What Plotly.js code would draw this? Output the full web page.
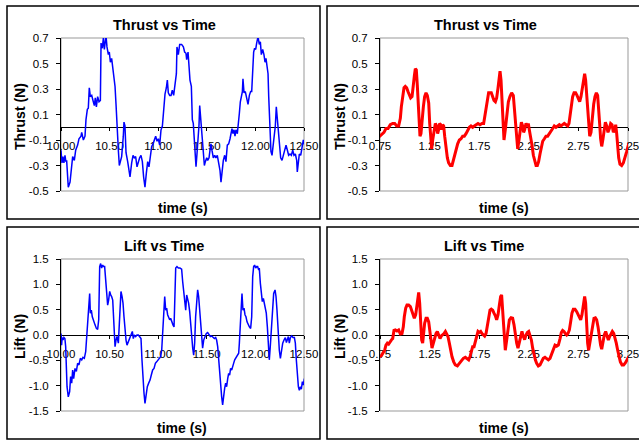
<!DOCTYPE html>
<html><head><meta charset="utf-8">
<script src="https://cdn.plot.ly/plotly-3.0.1.min.js"></script>
<style>html,body{margin:0;padding:0;background:#fff;}#chart{width:639px;height:441px;}</style>
</head><body><div id="chart"></div>
<script>
// ---- Data ----
const thrustExpTime = [10.000,10.010,10.020,10.030,10.041,10.050,10.058,10.075,10.093,10.110,10.120,10.137,10.151,10.171,10.185,10.206,10.213,10.230,10.247,10.257,10.271,10.281,10.291,10.302,10.316,10.329,10.343,10.353,10.364,10.377,10.391,10.405,10.412,10.425,10.436,10.446,10.453,10.463,10.473,10.487,10.497,10.508,10.521,10.535,10.549,10.556,10.566,10.576,10.590,10.600,10.610,10.624,10.641,10.648,10.658,10.669,10.686,10.700,10.710,10.727,10.741,10.754,10.768,10.782,10.796,10.809,10.823,10.837,10.850,10.864,10.878,10.892,10.905,10.919,10.933,10.947,10.960,10.974,10.988,11.001,11.015,11.029,11.043,11.056,11.070,11.084,11.094,11.104,11.118,11.132,11.145,11.159,11.173,11.187,11.193,11.207,11.221,11.241,11.259,11.272,11.286,11.293,11.307,11.317,11.327,11.341,11.351,11.361,11.372,11.379,11.389,11.399,11.409,11.420,11.427,11.437,11.451,11.464,11.475,11.485,11.499,11.509,11.523,11.533,11.543,11.553,11.567,11.581,11.594,11.608,11.622,11.636,11.646,11.656,11.670,11.684,11.697,11.711,11.725,11.739,11.749,11.759,11.769,11.780,11.790,11.800,11.814,11.824,11.835,11.845,11.855,11.866,11.872,11.883,11.896,11.910,11.924,11.938,11.951,11.962,11.972,11.982,11.992,12.003,12.013,12.027,12.040,12.051,12.061,12.075,12.088,12.099,12.109,12.119,12.130,12.137,12.143,12.150,12.160,12.171,12.181,12.195,12.205,12.215,12.225,12.236,12.246,12.260,12.274,12.288,12.301,12.315,12.329,12.342,12.356,12.370,12.384,12.397,12.411,12.425,12.431,12.442,12.452,12.466,12.480,12.493,12.507,12.521,12.534,12.545];
const thrustExp = [-0.18,-0.28,-0.23,-0.28,-0.22,-0.27,-0.26,-0.47,-0.43,-0.28,-0.23,-0.26,-0.18,-0.14,-0.09,-0.07,-0.04,-0.10,-0.07,0.06,0.14,0.15,0.31,0.24,0.25,0.21,0.17,0.23,0.16,0.24,0.20,0.21,0.66,0.62,0.70,0.61,0.65,0.72,0.63,0.57,0.59,0.51,0.54,0.45,0.40,0.32,0.18,-0.02,-0.18,-0.30,-0.27,-0.23,-0.07,0.04,0.01,-0.20,-0.27,-0.34,-0.39,-0.28,-0.22,-0.24,-0.23,-0.31,-0.27,-0.24,-0.22,-0.27,-0.39,-0.47,-0.36,-0.27,-0.31,-0.24,-0.15,-0.13,-0.10,-0.07,-0.11,-0.09,-0.14,-0.02,0.01,0.14,0.26,0.31,0.37,0.27,0.25,0.25,0.29,0.25,0.33,0.42,0.63,0.57,0.65,0.65,0.63,0.59,0.58,0.53,0.59,0.42,0.37,0.32,0.06,0.03,-0.10,-0.24,-0.31,-0.21,-0.13,0.02,0.17,0.08,-0.10,-0.21,-0.30,-0.27,-0.24,-0.26,-0.24,-0.18,-0.13,-0.18,-0.24,-0.22,-0.24,-0.22,-0.28,-0.34,-0.43,-0.34,-0.26,-0.22,-0.27,-0.14,-0.13,-0.09,-0.04,-0.01,-0.05,-0.02,-0.07,-0.02,-0.05,0.01,0.11,0.20,0.24,0.28,0.38,0.27,0.28,0.24,0.18,0.25,0.28,0.28,0.42,0.59,0.62,0.61,0.66,0.71,0.65,0.67,0.57,0.61,0.57,0.51,0.54,0.48,0.42,0.24,0.08,-0.05,-0.19,-0.22,-0.15,-0.07,0.01,0.16,0.08,-0.02,-0.14,-0.24,-0.26,-0.22,-0.18,-0.14,-0.18,-0.22,-0.21,-0.22,-0.18,-0.22,-0.21,-0.26,-0.35,-0.27,-0.21,-0.22,-0.14,-0.10,-0.14,-0.07,-0.04,0.01];

const thrustModelTime = [0.720,0.750,0.770,0.790,0.810,0.831,0.854,0.878,0.898,0.918,0.938,0.955,0.965,0.978,0.992,1.005,1.019,1.032,1.046,1.059,1.073,1.086,1.096,1.106,1.116,1.126,1.133,1.143,1.153,1.163,1.173,1.187,1.200,1.214,1.227,1.241,1.251,1.261,1.271,1.281,1.294,1.308,1.321,1.331,1.341,1.351,1.362,1.372,1.382,1.392,1.402,1.415,1.429,1.442,1.459,1.476,1.489,1.503,1.516,1.533,1.550,1.567,1.583,1.600,1.617,1.634,1.651,1.667,1.684,1.701,1.718,1.738,1.758,1.778,1.795,1.805,1.819,1.832,1.845,1.859,1.872,1.886,1.899,1.913,1.926,1.940,1.950,1.960,1.970,1.980,1.990,2.000,2.013,2.027,2.044,2.060,2.077,2.094,2.104,2.114,2.128,2.138,2.151,2.165,2.175,2.188,2.198,2.208,2.222,2.235,2.245,2.255,2.269,2.282,2.296,2.309,2.323,2.336,2.349,2.363,2.376,2.390,2.407,2.423,2.440,2.457,2.474,2.491,2.507,2.524,2.541,2.558,2.575,2.591,2.608,2.625,2.642,2.655,2.665,2.679,2.692,2.706,2.722,2.736,2.749,2.763,2.776,2.790,2.800,2.813,2.823,2.833,2.843,2.853,2.864,2.877,2.890,2.904,2.917,2.931,2.944,2.954,2.964,2.974,2.985,2.998,3.011,3.022,3.035,3.048,3.062,3.075,3.089,3.102,3.116,3.126,3.136,3.146,3.156,3.169,3.186,3.203,3.220,3.237,3.253,3.270,3.287,3.304];
const thrustModel = [-0.09,-0.07,-0.06,-0.04,-0.01,-0.01,0.02,0.03,0.03,0.01,0.01,0.07,0.16,0.24,0.31,0.32,0.31,0.28,0.25,0.23,0.24,0.31,0.40,0.46,0.45,0.33,0.21,0.06,-0.07,-0.05,0.06,0.16,0.24,0.27,0.25,0.19,0.03,-0.10,-0.17,-0.10,-0.02,0.03,0.01,-0.05,-0.02,0.03,0.02,-0.02,0.02,0.01,-0.07,-0.17,-0.24,-0.28,-0.30,-0.30,-0.26,-0.21,-0.17,-0.13,-0.10,-0.09,-0.07,-0.07,-0.05,-0.02,0.00,0.01,0.00,0.01,0.02,0.03,0.02,0.03,0.03,0.08,0.16,0.23,0.27,0.27,0.27,0.24,0.21,0.20,0.23,0.31,0.37,0.44,0.37,0.24,0.08,-0.10,-0.02,0.11,0.20,0.24,0.27,0.25,0.16,0.01,-0.10,-0.17,-0.10,-0.02,0.04,0.01,-0.04,-0.02,0.03,0.01,0.03,-0.02,-0.07,-0.14,-0.22,-0.27,-0.30,-0.30,-0.27,-0.21,-0.15,-0.11,-0.09,-0.07,-0.07,-0.05,-0.04,-0.01,0.01,0.00,0.01,0.02,0.01,0.02,0.03,0.02,0.01,0.03,0.10,0.18,0.24,0.27,0.27,0.25,0.23,0.20,0.24,0.31,0.37,0.42,0.37,0.27,0.14,0.01,-0.07,-0.04,0.08,0.18,0.24,0.27,0.25,0.16,0.03,-0.09,-0.15,-0.09,-0.01,0.04,0.01,-0.04,-0.01,0.03,0.02,-0.04,-0.02,0.02,-0.05,-0.15,-0.24,-0.29,-0.30,-0.28,-0.24,-0.19,-0.14,-0.10,-0.07,-0.06];

const liftExpTime = [10.000,10.006,10.012,10.021,10.030,10.040,10.048,10.055,10.062,10.075,10.089,10.099,10.110,10.120,10.130,10.144,10.158,10.171,10.185,10.199,10.213,10.226,10.240,10.254,10.267,10.278,10.285,10.295,10.302,10.312,10.322,10.336,10.350,10.364,10.377,10.388,10.398,10.408,10.418,10.429,10.439,10.449,10.460,10.470,10.480,10.490,10.501,10.511,10.521,10.532,10.538,10.549,10.556,10.566,10.576,10.590,10.600,10.610,10.617,10.628,10.638,10.648,10.658,10.669,10.679,10.693,10.706,10.720,10.734,10.744,10.754,10.768,10.782,10.796,10.809,10.823,10.833,10.844,10.854,10.864,10.874,10.888,10.902,10.916,10.929,10.943,10.957,10.971,10.984,10.998,11.012,11.025,11.036,11.046,11.056,11.067,11.077,11.087,11.097,11.108,11.118,11.128,11.139,11.152,11.163,11.173,11.180,11.193,11.207,11.224,11.241,11.252,11.262,11.272,11.283,11.293,11.303,11.313,11.324,11.334,11.344,11.355,11.365,11.375,11.385,11.396,11.406,11.416,11.426,11.437,11.447,11.457,11.468,11.481,11.495,11.509,11.523,11.536,11.550,11.564,11.578,11.591,11.601,11.612,11.622,11.632,11.643,11.653,11.663,11.674,11.684,11.694,11.704,11.715,11.725,11.735,11.745,11.756,11.766,11.776,11.787,11.797,11.807,11.817,11.828,11.835,11.845,11.852,11.862,11.872,11.883,11.893,11.903,11.914,11.924,11.938,11.951,11.962,11.972,11.982,11.992,12.003,12.013,12.023,12.034,12.040,12.051,12.061,12.071,12.082,12.092,12.102,12.112,12.123,12.133,12.143,12.153,12.164,12.174,12.188,12.202,12.212,12.222,12.233,12.246,12.257,12.267,12.281,12.294,12.308,12.319,12.329,12.339,12.349,12.360,12.373,12.387,12.401,12.411,12.421,12.431,12.442,12.452,12.462,12.473,12.483,12.493,12.504,12.514,12.528,12.538];
const liftExp = [0.03,-0.20,-0.05,-0.10,-0.05,-0.07,-0.23,-0.69,-1.02,-1.22,-1.12,-0.82,-0.95,-0.69,-0.86,-0.66,-0.72,-0.56,-0.59,-0.46,-0.49,-0.44,-0.46,-0.33,0.03,0.36,0.66,0.82,0.43,0.49,0.36,0.26,0.20,0.13,0.11,0.30,1.35,1.41,1.32,1.38,1.35,1.35,1.05,0.95,0.59,0.69,0.86,0.79,0.76,0.69,0.49,0.03,-0.23,-0.10,-0.03,-0.16,0.23,0.63,0.86,0.76,0.63,0.36,0.10,-0.10,-0.20,-0.13,-0.03,0.00,0.07,-0.07,0.00,-0.03,0.00,0.00,-0.03,-0.07,-0.49,-0.95,-1.15,-1.35,-1.15,-1.02,-0.95,-0.89,-0.79,-0.69,-0.66,-0.56,-0.53,-0.49,-0.46,-0.43,-0.30,0.00,0.36,0.76,0.49,0.53,0.40,0.36,0.30,0.33,0.26,0.20,0.16,0.89,1.32,1.35,1.32,1.32,1.30,1.05,0.89,0.76,0.49,0.79,0.72,0.63,0.46,0.16,-0.03,-0.26,-0.40,-0.16,0.36,0.76,0.89,0.76,0.49,0.16,-0.16,-0.26,-0.10,-0.02,0.03,0.05,0.00,-0.03,-0.02,-0.05,-0.07,-0.05,-0.10,-0.23,-0.49,-0.82,-1.09,-1.22,-1.38,-1.15,-1.05,-0.95,-1.02,-0.86,-0.76,-0.79,-0.66,-0.69,-0.59,-0.56,-0.49,-0.46,-0.43,-0.40,-0.36,-0.16,0.16,0.56,0.82,0.49,0.53,0.40,0.36,0.26,0.20,0.16,0.13,0.36,1.15,1.35,1.38,1.32,1.35,1.35,1.28,1.32,1.02,0.82,0.66,0.72,0.63,0.56,0.43,0.16,-0.23,-0.49,-0.23,0.10,0.49,0.82,0.89,0.76,0.49,0.10,-0.30,-0.46,-0.30,-0.16,-0.10,-0.05,-0.15,-0.09,-0.03,-0.16,-0.05,-0.02,-0.05,-0.05,-0.16,-0.49,-0.82,-1.02,-1.09,-1.02,-1.07,-0.92,-0.99,-0.86,-0.89,-0.79,-0.66];

const liftModelTime = [0.720,0.743,0.763,0.780,0.797,0.810,0.824,0.837,0.851,0.864,0.878,0.891,0.905,0.921,0.938,0.955,0.972,0.985,0.995,1.009,1.022,1.039,1.056,1.069,1.083,1.096,1.110,1.120,1.130,1.140,1.150,1.160,1.170,1.180,1.190,1.200,1.214,1.227,1.241,1.254,1.264,1.274,1.288,1.301,1.315,1.328,1.341,1.355,1.368,1.382,1.395,1.409,1.422,1.435,1.449,1.462,1.476,1.493,1.509,1.530,1.550,1.570,1.590,1.610,1.630,1.644,1.657,1.671,1.684,1.698,1.711,1.724,1.738,1.751,1.765,1.778,1.792,1.805,1.819,1.832,1.845,1.859,1.872,1.886,1.899,1.913,1.926,1.940,1.953,1.966,1.976,1.990,2.003,2.013,2.027,2.040,2.054,2.071,2.087,2.101,2.114,2.128,2.141,2.155,2.168,2.181,2.195,2.208,2.222,2.235,2.249,2.262,2.276,2.289,2.302,2.316,2.329,2.346,2.363,2.380,2.396,2.413,2.430,2.447,2.464,2.481,2.497,2.514,2.531,2.548,2.565,2.578,2.591,2.605,2.618,2.632,2.645,2.659,2.672,2.685,2.699,2.716,2.733,2.746,2.759,2.773,2.786,2.800,2.813,2.823,2.833,2.843,2.853,2.867,2.880,2.894,2.907,2.921,2.934,2.948,2.961,2.974,2.985,2.998,3.011,3.025,3.038,3.052,3.065,3.079,3.092,3.106,3.119,3.132,3.146,3.159,3.173,3.190,3.206,3.223,3.240,3.257,3.274,3.287,3.304];
const liftModel = [-0.36,-0.43,-0.41,-0.36,-0.30,-0.20,-0.16,-0.18,-0.13,-0.10,-0.07,0.09,0.10,0.08,0.10,0.02,0.03,0.16,0.36,0.53,0.59,0.59,0.56,0.49,0.40,0.33,0.40,0.59,0.76,0.84,0.63,0.23,-0.10,-0.16,0.03,0.23,0.33,0.33,0.26,0.10,-0.10,-0.26,-0.16,-0.03,0.03,0.07,0.00,-0.07,-0.02,0.00,0.03,0.07,0.03,-0.03,-0.16,-0.33,-0.43,-0.53,-0.59,-0.61,-0.56,-0.49,-0.46,-0.44,-0.46,-0.49,-0.43,-0.30,-0.23,-0.23,-0.13,-0.05,0.07,0.05,0.07,0.03,0.00,-0.02,0.03,0.16,0.36,0.49,0.51,0.49,0.43,0.38,0.30,0.40,0.59,0.76,0.79,0.36,-0.10,-0.30,-0.10,0.13,0.30,0.34,0.33,0.20,0.00,-0.16,-0.26,-0.13,0.00,0.07,-0.03,-0.09,0.00,0.05,0.07,0.00,-0.10,-0.26,-0.40,-0.49,-0.56,-0.61,-0.59,-0.53,-0.46,-0.44,-0.46,-0.49,-0.46,-0.36,-0.26,-0.20,-0.22,-0.20,-0.07,0.05,0.09,0.07,0.03,0.00,0.03,0.10,0.26,0.43,0.51,0.51,0.46,0.40,0.33,0.30,0.40,0.59,0.76,0.63,0.16,-0.16,-0.30,-0.13,0.07,0.26,0.33,0.34,0.30,0.16,-0.07,-0.20,-0.28,-0.13,0.00,0.07,-0.02,-0.10,-0.03,0.03,0.07,0.03,-0.05,-0.16,-0.30,-0.43,-0.53,-0.59,-0.59,-0.55,-0.49,-0.43,-0.41,-0.46,-0.44];

const expTickVals = [10.0, 10.5, 11.0, 11.5, 12.0, 12.5];
const expTickText = ['10.00','10.50','11.00','11.50','12.00','12.50'];
const modelTickVals = [0.75, 1.25, 1.75, 2.25, 2.75, 3.25];
const modelTickText = ['0.75','1.25','1.75','2.25','2.75','3.25'];
const thrustTickVals = [-0.5,-0.3,-0.1,0.1,0.3,0.5,0.7];
const thrustTickText = ['-0.5','-0.3','-0.1','0.1','0.3','0.5','0.7'];
const liftTickVals = [-1.5,-1.0,-0.5,0,0.5,1.0,1.5];
const liftTickText = ['-1.5','-1.0','-0.5','0.0','0.5','1.0','1.5'];

// ---- Layout helpers ----
const W = 639, H = 441;
const FONT = 'Liberation Sans, Arial, Helvetica, sans-serif';
function yDom(top, bottom){ return [1 - bottom / H, 1 - top / H]; }
function zeroPos(dom, range){ return dom[0] + (0 - range[0]) / (range[1] - range[0]) * (dom[1] - dom[0]); }

function xAxis(x0, x1, range, vals, text, pos){
  return {domain:[x0 / W, x1 / W], range:range, anchor:'free', position:pos,
    tickmode:'array', tickvals:vals, ticktext:text,
    showline:true, linecolor:'#000', linewidth:1, ticks:'outside', ticklen:3, tickcolor:'#000', tickwidth:1,
    showgrid:false, zeroline:false, layer:'below traces', ticklabelstandoff:5, ticklabeloverflow:'allow',
    tickfont:{family:FONT, size:11.5, color:'#000'}, fixedrange:true};
}
function yAxis(dom, range, vals, text, anchor){
  return {domain:dom, range:range, anchor:anchor, side:'left',
    tickmode:'array', tickvals:vals, ticktext:text,
    showline:true, linecolor:'#000', linewidth:1, ticks:'outside', ticklen:4, tickcolor:'#000', tickwidth:1,
    showgrid:false, zeroline:false, ticklabelstandoff:5, ticklabeloverflow:'allow',
    tickfont:{family:FONT, size:11.5, color:'#000'}, fixedrange:true};
}

const rT = [-0.5, 0.7], rL = [-1.5, 1.5];
const dTop = yDom(38, 191), dBot = yDom(259, 411);

const traces = [
  {x:thrustExpTime, y:thrustExp, xaxis:'x', yaxis:'y', type:'scatter', mode:'lines', line:{color:'#0000FF', width:1.5}, hoverinfo:'skip'},
  {x:thrustModelTime, y:thrustModel, xaxis:'x2', yaxis:'y2', type:'scatter', mode:'lines', line:{color:'#FF0000', width:3}, hoverinfo:'skip'},
  {x:liftExpTime, y:liftExp, xaxis:'x3', yaxis:'y3', type:'scatter', mode:'lines', line:{color:'#0000FF', width:1.5}, hoverinfo:'skip'},
  {x:liftModelTime, y:liftModel, xaxis:'x4', yaxis:'y4', type:'scatter', mode:'lines', line:{color:'#FF0000', width:3}, hoverinfo:'skip'}
];

function frame(xr, yr){
  return {type:'rect', xref:xr + ' domain', yref:yr + ' domain', x0:0, x1:1, y0:0, y1:1,
    line:{color:'#999999', width:1}, layer:'below'};
}
function box(x0, y0, x1, y1){
  return {type:'rect', xref:'paper', yref:'paper', x0:x0 / W, x1:x1 / W, y0:1 - y1 / H, y1:1 - y0 / H,
    line:{color:'#000', width:1.5}, fillcolor:'rgba(0,0,0,0)', layer:'below'};
}
function ann(text, x, y, size, angle){
  return {text:text, x:x / W, y:1 - y / H, xref:'paper', yref:'paper', showarrow:false,
    xanchor:'center', yanchor:'middle', textangle:angle || 0,
    font:{family:FONT, size:size, color:'#000', weight:'bold'}};
}

const layout = {
  width:W, height:H, margin:{l:0, r:0, t:0, b:0},
  paper_bgcolor:'#fff', plot_bgcolor:'rgba(0,0,0,0)', showlegend:false,
  xaxis: xAxis(61, 304, [10, 12.5], expTickVals, expTickText, zeroPos(dTop, rT)),
  yaxis: yAxis(dTop, rT, thrustTickVals, thrustTickText, 'x'),
  xaxis2: xAxis(380, 628, [0.75, 3.25], modelTickVals, modelTickText, zeroPos(dTop, rT)),
  yaxis2: yAxis(dTop, rT, thrustTickVals, thrustTickText, 'x2'),
  xaxis3: xAxis(61, 304, [10, 12.5], expTickVals, expTickText, zeroPos(dBot, rL)),
  yaxis3: yAxis(dBot, rL, liftTickVals, liftTickText, 'x3'),
  xaxis4: xAxis(380, 628, [0.75, 3.25], modelTickVals, modelTickText, zeroPos(dBot, rL)),
  yaxis4: yAxis(dBot, rL, liftTickVals, liftTickText, 'x4'),
  shapes:[
    box(7, 6, 320, 219), box(327, 6, 646, 219), box(7, 227, 320, 439), box(327, 227, 646, 439),
    frame('x','y'), frame('x2','y2'), frame('x3','y3'), frame('x4','y4')
  ],
  annotations:[
    ann('Thrust vs Time', 164, 25, 14.5), ann('Thrust vs Time', 485, 25, 14.5),
    ann('Lift vs Time', 164, 246, 14.5), ann('Lift vs Time', 484, 246, 14.5),
    ann('time (s)', 183, 208, 14), ann('time (s)', 504, 208, 14),
    ann('time (s)', 182, 428, 14), ann('time (s)', 504, 428, 14),
    ann('Thrust (N)', 20, 117, 14, -90), ann('Thrust (N)', 340, 117, 14, -90),
    ann('Lift (N)', 20, 337, 14, -90), ann('Lift (N)', 340, 337, 14, -90)
  ]
};

Plotly.newPlot('chart', traces, layout, {staticPlot:true, displayModeBar:false});
</script>
</body></html>
